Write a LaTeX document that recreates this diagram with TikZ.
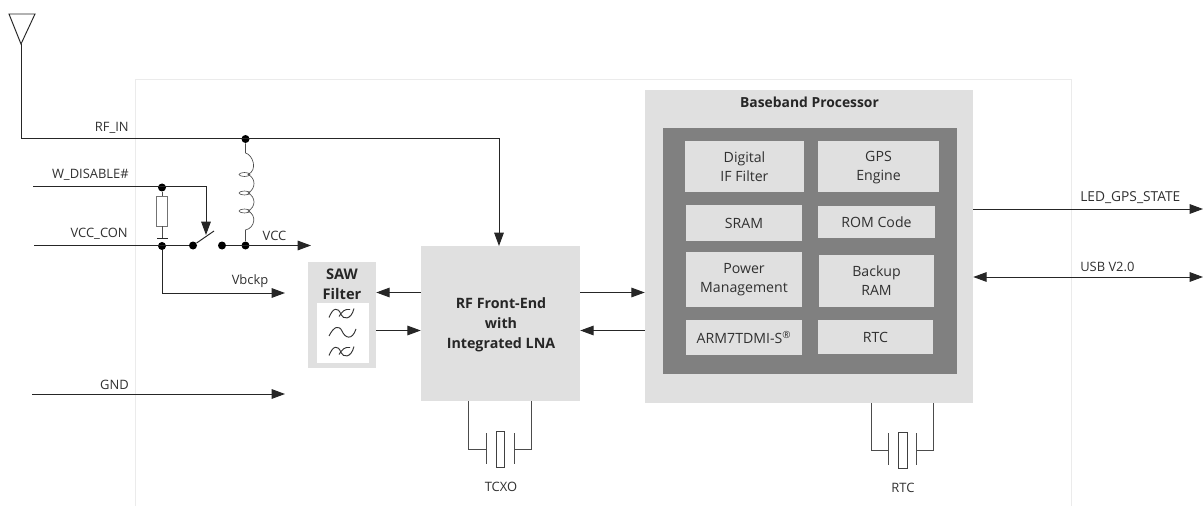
\documentclass[tikz,border=0pt]{standalone}
\usepackage{fontspec}
\setmainfont{Open Sans}
\usetikzlibrary{arrows.meta}
\definecolor{blockgray}{HTML}{E0E0E0}
\definecolor{innergray}{HTML}{808080}
\definecolor{framegray}{HTML}{EBEBEB}
\definecolor{inkgray}{HTML}{303030}
\tikzset{
  x=0.75pt,y=-0.75pt,
  wire/.style={draw=black!85,line width=0.72pt},
  thin wire/.style={draw=black!70,line width=0.65pt},
  arrowed/.style={wire,-{Triangle[length=10pt,width=7.2pt]}},
  bothway/.style={wire,{Triangle[length=10pt,width=7.2pt]}-{Triangle[length=10pt,width=7.2pt]}},
  dot/.style={circle,fill=black,inner sep=0pt,minimum size=6pt},
  lab/.style={font=\fontsize{9.7}{11}\selectfont,text=inkgray,inner sep=0pt},
  boxlab/.style={font=\fontsize{10.6}{14.2}\selectfont,text=inkgray,align=center},
  titlelab/.style={font=\fontsize{10.4}{14.2}\selectfont\bfseries,text=black!85,align=center,inner sep=0pt},
}
\newcommand{\pxbox}[7]{%
  \node[fill=#6,draw=none,inner sep=0pt,minimum width=(#4-#2)*0.75pt,minimum height=(#5-#3)*0.75pt,boxlab] (#1) at ({(#2+#4)/2},{(#3+#5)/2}) {#7};}
\newcommand{\waveslash}[2]{%
  \draw[draw=black!80,line width=0.7pt] (#1-13,#2+4) .. controls (#1-9,#2-6) and (#1-4,#2-7) .. (#1-1,#2+1) .. controls (#1+1,#2+6) and (#1+9,#2+7) .. (#1+12,#2-5);
  \draw[draw=black!80,line width=0.7pt] (#1-3,#2+3) .. controls (#1,#2-2) and (#1+3,#2-5) .. (#1+8,#2-4);
}
\begin{document}
\begin{tikzpicture}
\useasboundingbox (0,0) rectangle (1203,506);
% frame
\draw[framegray,line width=0.7pt] (135,506) -- (135,79.5) -- (1071,79.5) -- (1071,506);
% blocks
\pxbox{bb}{645}{90}{973}{403}{blockgray}{}
\pxbox{inner}{663}{128}{957}{374}{innergray}{}
\node[titlelab] (bbt) at (809.5,102) {Baseband Processor};
\pxbox{dig}{685}{141}{804}{192}{blockgray}{Digital\\IF Filter}
\pxbox{gps}{818}{141}{939}{192}{blockgray}{}
\node[boxlab,inner sep=0pt] (gpst) at (878.5,168) {GPS\\Engine};
\pxbox{sram}{686}{205}{802}{241}{blockgray}{SRAM}
\pxbox{rom}{818}{206}{935}{238}{blockgray}{ROM Code}
\pxbox{pow}{686}{252}{802}{307}{blockgray}{Power\\Management}
\pxbox{bak}{819}{255}{934}{307}{blockgray}{Backup\\RAM}
\pxbox{arm}{686}{320}{802}{355}{blockgray}{ARM7TDMI-S\textsuperscript{®}}
\pxbox{rtcb}{818}{320}{933}{354}{blockgray}{RTC}
\pxbox{rf}{421}{246}{580}{401}{blockgray}{}
\node[titlelab,font=\fontsize{10.7}{14.9}\selectfont\bfseries] (rft) at (501,325) {RF Front-End\\with\\Integrated LNA};
\pxbox{saw}{308}{262}{376}{368}{blockgray}{}
\node[titlelab,font=\fontsize{11}{14.8}\selectfont\bfseries] (sawt) at (342,284.5) {SAW\\Filter};
\pxbox{sawin}{317}{303}{369}{363}{white}{}
\waveslash{342}{313.5}
\draw[draw=black!80,line width=0.7pt] (329,336) .. controls (334,326) and (339,325) .. (342,331) .. controls (345,338) and (352,341) .. (356,329);
\waveslash{342}{351.5}
% antenna and RF_IN
\coordinate (antA) at (9,14); \coordinate (antB) at (35,14); \coordinate (antC) at (21,44);
\draw[wire,line join=miter] (antA) -- (antB) -- (antC) -- cycle;
\node[dot] (rfdot) at (245.5,139) {};
\draw[arrowed] (antC) -- (21,138) -- (499,138) -- (499,246);
\node[lab,anchor=south east] (rfin) at (129,134) {RF\_IN};
% inductor
\node[dot] (vccdot) at (245.5,245.5) {};
\draw[thin wire,line width=0.5pt] (rfdot) -- (245.5,153)
  .. controls (253,155) and (258,170) .. (248,174.5)
  .. controls (256,178) and (256,189) .. (248,193)
  .. controls (256,197) and (256,207) .. (248,211)
  .. controls (257,215) and (255,228) .. (245.5,230) -- (vccdot);
\foreach \yy in {174.5,193,211} \draw[thin wire,line width=0.45pt] (244.5,\yy) ellipse (5.5 and 2);
% W_DISABLE
\coordinate (wstart) at (33,186.5);
\coordinate (swtip) at (206,235);
\node[dot] (wdot) at (162,187.5) {};
\draw[arrowed] (wstart) -- (206,186.5) -- (swtip);
\node[lab,anchor=south east] (wl) at (129,181) {W\_DISABLE\#};
% resistor
\node[draw=black!55,line width=0.5pt,inner sep=0pt,minimum width=8.2pt,minimum height=22.5pt] (res) at (162,211) {};
\draw[thin wire] (wdot) -- (res.north);
\coordinate (gndbar) at (162,238);
\draw[thin wire] (res.south) -- (gndbar);
\draw[wire] (157,238) -- (168,238);
% VCC_CON
\coordinate (vstart) at (34,245.5);
\node[dot] (vcdot) at (162,246) {};
\node[dot] (swa) at (193,245.5) {};
\node[dot] (swb) at (222,245.5) {};
\coordinate (swend) at (214,231);
\draw[wire] (vstart) -- (swa);
\draw[wire] (swa) -- (swend);
\coordinate (vccend) at (311,245.5);
\draw[arrowed] (swb) -- (vccend);
\node[lab,anchor=south] (vccl) at (274.5,241) {VCC};
\node[lab,anchor=south east] (vcl) at (128,240) {VCC\_CON};
% Vbckp
\coordinate (vbend) at (285,293);
\draw[arrowed] (vcdot) -- (162,293) -- (vbend);
\node[lab,anchor=south] (vbl) at (250,288) {Vbckp};
% GND
\coordinate (gs) at (32,394); \coordinate (ge) at (285,394);
\draw[arrowed] (gs) -- (ge);
\node[lab,anchor=south] (gl) at (114.5,389.5) {GND};
% block arrows
\draw[arrowed] (rf.west |- 0,292.5) -- (saw.east |- 0,292.5);
\draw[arrowed] (saw.east |- 0,330.5) -- (rf.west |- 0,330.5);
\draw[arrowed] (rf.east |- 0,292.5) -- (bb.west |- 0,292.5);
\draw[arrowed] (bb.west |- 0,330.5) -- (rf.east |- 0,330.5);
% outputs
\coordinate (ledend) at (1203,209); \coordinate (usbend) at (1203,277);
\draw[arrowed] (bb.east |- ledend) -- (ledend);
\draw[bothway] (bb.east |- usbend) -- (usbend);
\node[lab,anchor=south west,font=\fontsize{10.3}{11}\selectfont] (ledl) at (1080,203.5) {LED\_GPS\_STATE};
\node[lab,anchor=south west] (usbl) at (1080,271.5) {USB V2.0};
% TCXO crystal
\node[draw=black!75,line width=0.6pt,inner sep=0pt,minimum width=6.4pt,minimum height=27pt] (xt) at (500.5,449) {};
\draw[thin wire] (rf.south -| 468,0) -- (468,449) -- (486,449);
\draw[thin wire] (rf.south -| 531,0) -- (531,449) -- (514,449);
\draw[thin wire] (486,433) -- (486,464);
\draw[thin wire] (514,433) -- (514,464);
\node[lab] (tl) at (501,487) {TCXO};
% RTC crystal
\node[draw=black!75,line width=0.6pt,inner sep=0pt,minimum width=6.4pt,minimum height=27pt] (xr) at (903,450) {};
\draw[thin wire] (bb.south -| 871,0) -- (871,450) -- (888,450);
\draw[thin wire] (bb.south -| 933,0) -- (933,450) -- (916,450);
\draw[thin wire] (888,433) -- (888,465);
\draw[thin wire] (916,433) -- (916,465);
\node[lab] (rl) at (903,488) {RTC};
\end{tikzpicture}
\end{document}
